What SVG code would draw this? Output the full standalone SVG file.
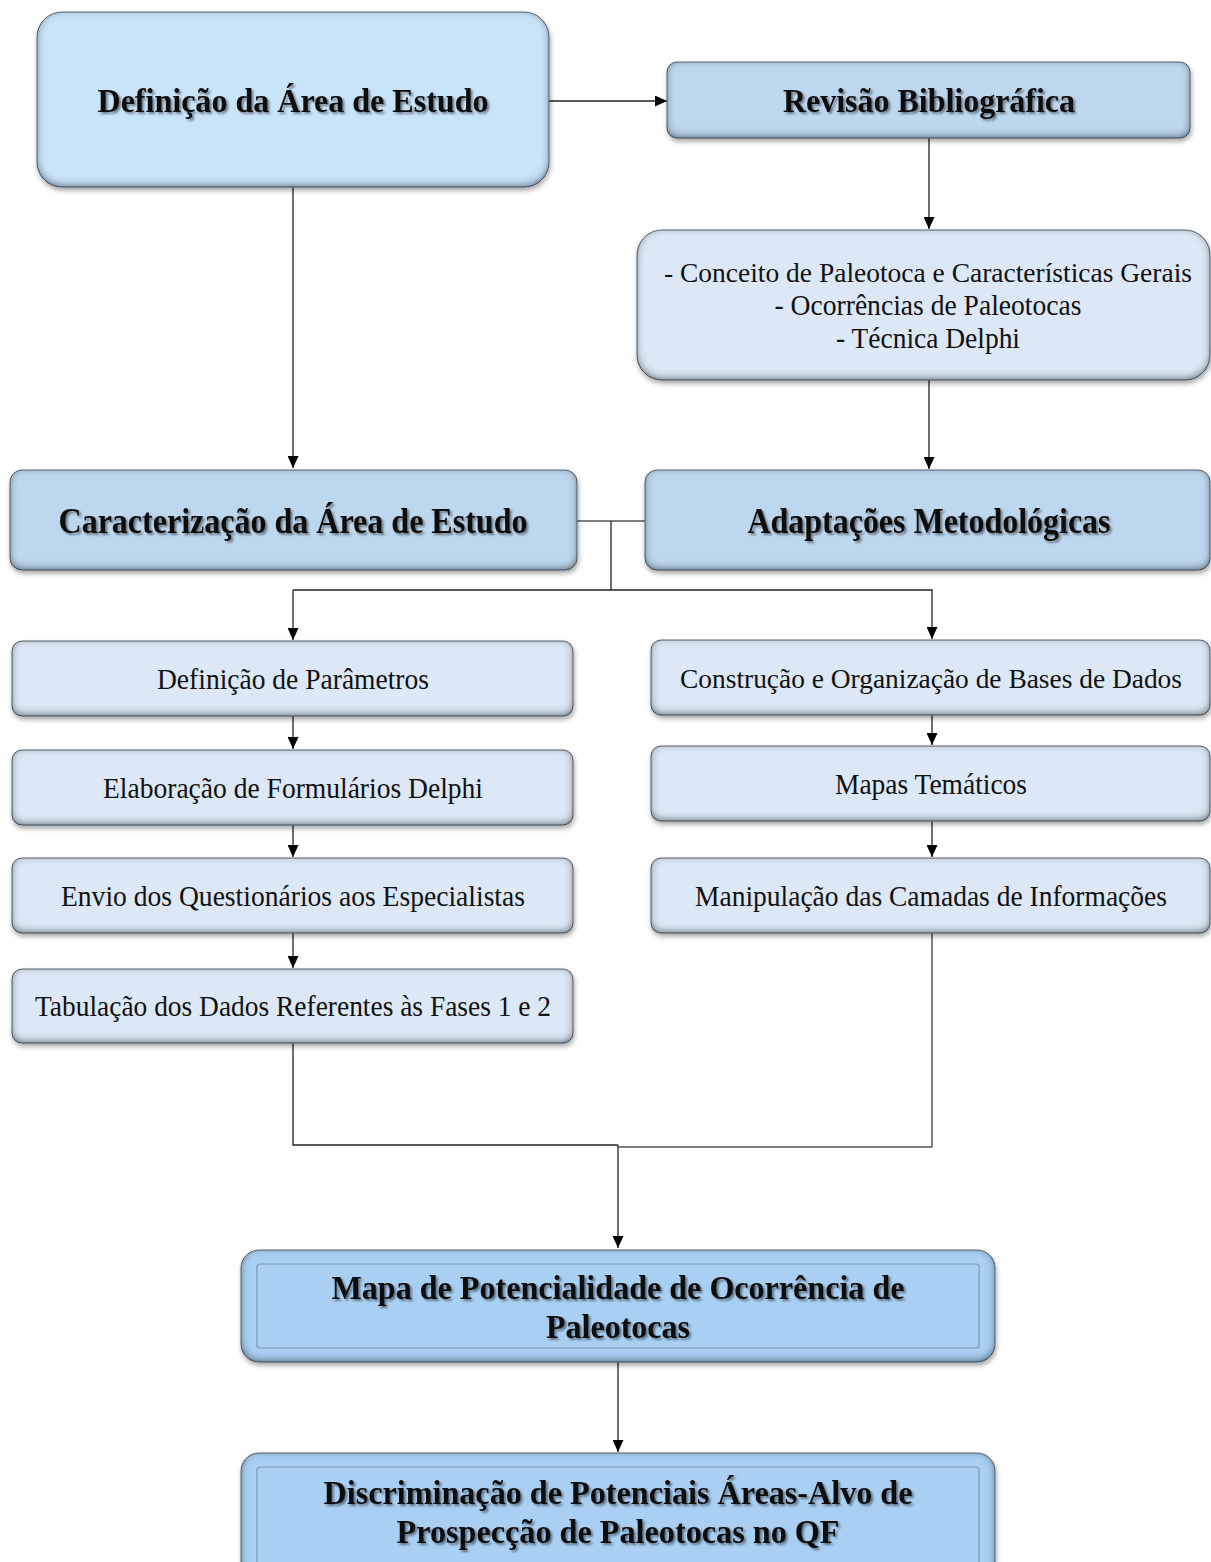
<svg xmlns="http://www.w3.org/2000/svg" width="1211" height="1562" viewBox="0 0 1211 1562">
<style>
.t{font-family:"Liberation Serif","Times New Roman",serif;fill:#111;text-anchor:middle}
.r{font-size:30px}
.b{font-weight:bold;filter:url(#tsh)}
.box{filter:url(#bevel);stroke:#5f6a76;stroke-width:1}
.c1{fill:#c9e3f9}
.c2{fill:#bdd7ee}
.c3{fill:#dce8f5}
.c4{fill:#a9cff2}
.inner{fill:none;stroke:#7f98b0;stroke-width:1.2}
.ln{fill:none;stroke:#222;stroke-width:1.3}
.lg{fill:none;stroke:#555;stroke-width:1.5}
</style>
<defs>
<marker id="ah" viewBox="0 0 12 11" refX="12" refY="5.5" markerWidth="12" markerHeight="11" markerUnits="userSpaceOnUse" orient="auto">
<path d="M0,0 L12,5.5 L0,11 z" fill="#000"/>
</marker>
<filter id="bevel" x="-5%" y="-10%" width="110%" height="130%">
<feGaussianBlur in="SourceAlpha" stdDeviation="2.5" result="sb"/>
<feOffset in="sb" dx="1" dy="3" result="so"/>
<feFlood flood-color="#000" flood-opacity="0.35"/>
<feComposite in2="so" operator="in" result="drop"/>
<feGaussianBlur in="SourceAlpha" stdDeviation="4.5" result="b"/>
<feOffset in="b" dx="0" dy="-2" result="bo"/>
<feComposite in="SourceAlpha" in2="bo" operator="arithmetic" k2="1" k3="-1" result="edge"/>
<feFlood flood-color="#2a343e" flood-opacity="1"/>
<feComposite in2="edge" operator="in" result="inner"/>
<feMerge><feMergeNode in="drop"/><feMergeNode in="SourceGraphic"/><feMergeNode in="inner"/></feMerge>
</filter>
<filter id="tsh" x="-5%" y="-20%" width="110%" height="150%">
<feGaussianBlur in="SourceAlpha" stdDeviation="1.2" result="b"/>
<feOffset in="b" dx="2" dy="2" result="o"/>
<feFlood flood-color="#000" flood-opacity="0.45"/>
<feComposite in2="o" operator="in" result="s"/>
<feMerge><feMergeNode in="s"/><feMergeNode in="SourceGraphic"/></feMerge>
</filter>
</defs>
<rect width="1211" height="1562" fill="#fff"/>

<g id="connectors">
<line class="ln" x1="549" y1="101" x2="667" y2="101" marker-end="url(#ah)"/>
<line class="ln" x1="293" y1="187" x2="293" y2="468" marker-end="url(#ah)"/>
<line class="ln" x1="929" y1="138" x2="929" y2="229" marker-end="url(#ah)"/>
<line class="ln" x1="929" y1="380" x2="929" y2="469" marker-end="url(#ah)"/>
<line class="lg" x1="577" y1="521" x2="645" y2="521"/>
<polyline class="ln" points="611,521 611,590"/>
<polyline class="ln" points="293,590 932,590 932,639" marker-end="url(#ah)"/>
<line class="ln" x1="293" y1="590" x2="293" y2="640" marker-end="url(#ah)"/>
<line class="ln" x1="293" y1="716" x2="293" y2="749" marker-end="url(#ah)"/>
<line class="ln" x1="293" y1="825" x2="293" y2="857" marker-end="url(#ah)"/>
<line class="ln" x1="293" y1="933" x2="293" y2="968" marker-end="url(#ah)"/>
<line class="ln" x1="932" y1="715" x2="932" y2="745" marker-end="url(#ah)"/>
<line class="ln" x1="932" y1="821" x2="932" y2="857" marker-end="url(#ah)"/>
<polyline class="ln" points="293,1043 293,1145 618,1145"/>
<polyline class="lg" points="932,933 932,1147 618,1147"/>
<line class="ln" x1="618" y1="1145" x2="618" y2="1248" marker-end="url(#ah)"/>
<line class="ln" x1="618" y1="1362" x2="618" y2="1452" marker-end="url(#ah)"/>
</g>

<g id="n-definicao-area">
<rect class="box c1" x="37" y="12" width="512" height="175" rx="25"/>
<text class="t b" x="293" y="112" font-size="34" textLength="391" lengthAdjust="spacingAndGlyphs">Definição da Área de Estudo</text>
</g>
<g id="n-revisao">
<rect class="box c2" x="667" y="62" width="523" height="76" rx="10"/>
<text class="t b" x="929" y="112" font-size="33" textLength="292" lengthAdjust="spacingAndGlyphs">Revisão Bibliográfica</text>
</g>
<g id="n-conceito">
<rect class="box c3" x="637" y="230" width="573" height="150" rx="25"/>
<text class="t" x="928" y="282" font-size="28" textLength="528" lengthAdjust="spacingAndGlyphs">- Conceito de Paleotoca e Características Gerais</text>
<text class="t r" x="928" y="315" textLength="307" lengthAdjust="spacingAndGlyphs">- Ocorrências de Paleotocas</text>
<text class="t r" x="928" y="348" textLength="184" lengthAdjust="spacingAndGlyphs">- Técnica Delphi</text>
</g>
<g id="n-caracterizacao">
<rect class="box c2" x="10" y="470" width="567" height="100" rx="12"/>
<text class="t b" x="293" y="533" font-size="36" textLength="469" lengthAdjust="spacingAndGlyphs">Caracterização da Área de Estudo</text>
</g>
<g id="n-adaptacoes">
<rect class="box c2" x="645" y="470" width="565" height="100" rx="12"/>
<text class="t b" x="929" y="533" font-size="36" textLength="363" lengthAdjust="spacingAndGlyphs">Adaptações Metodológicas</text>
</g>

<g id="n-parametros">
<rect class="box c3" x="12" y="641" width="561" height="75" rx="10"/>
<text class="t r" x="293" y="689" textLength="272" lengthAdjust="spacingAndGlyphs">Definição de Parâmetros</text>
</g>
<g id="n-formularios">
<rect class="box c3" x="12" y="750" width="561" height="75" rx="10"/>
<text class="t r" x="293" y="798" textLength="380" lengthAdjust="spacingAndGlyphs">Elaboração de Formulários Delphi</text>
</g>
<g id="n-envio">
<rect class="box c3" x="12" y="858" width="561" height="75" rx="10"/>
<text class="t r" x="293" y="906" textLength="464" lengthAdjust="spacingAndGlyphs">Envio dos Questionários aos Especialistas</text>
</g>
<g id="n-tabulacao">
<rect class="box c3" x="12" y="969" width="561" height="74" rx="10"/>
<text class="t r" x="293" y="1016" textLength="516" lengthAdjust="spacingAndGlyphs">Tabulação dos Dados Referentes às Fases 1 e 2</text>
</g>

<g id="n-construcao">
<rect class="box c3" x="651" y="640" width="559" height="75" rx="10"/>
<text class="t" x="931" y="688" font-size="28" textLength="502" lengthAdjust="spacingAndGlyphs">Construção e Organização de Bases de Dados</text>
</g>
<g id="n-mapas">
<rect class="box c3" x="651" y="746" width="559" height="75" rx="10"/>
<text class="t r" x="931" y="794" textLength="192" lengthAdjust="spacingAndGlyphs">Mapas Temáticos</text>
</g>
<g id="n-manipulacao">
<rect class="box c3" x="651" y="858" width="559" height="75" rx="10"/>
<text class="t r" x="931" y="906" textLength="472" lengthAdjust="spacingAndGlyphs">Manipulação das Camadas de Informações</text>
</g>

<g id="n-mapa-potencialidade">
<rect class="box c4" x="241" y="1250" width="754" height="112" rx="18"/>
<rect class="inner" x="257" y="1264" width="722" height="84" rx="3"/>
<text class="t b" x="618" y="1299" font-size="34" textLength="573" lengthAdjust="spacingAndGlyphs">Mapa de Potencialidade de Ocorrência de</text>
<text class="t b" x="618" y="1338" font-size="34" textLength="144" lengthAdjust="spacingAndGlyphs">Paleotocas</text>
</g>
<g id="n-discriminacao">
<rect class="box c4" x="241" y="1453" width="754" height="130" rx="18"/>
<rect class="inner" x="257" y="1467" width="722" height="100" rx="3"/>
<text class="t b" x="618" y="1504" font-size="34" textLength="589" lengthAdjust="spacingAndGlyphs">Discriminação de Potenciais Áreas-Alvo de</text>
<text class="t b" x="618" y="1543" font-size="34" textLength="443" lengthAdjust="spacingAndGlyphs">Prospecção de Paleotocas no QF</text>
</g>
</svg>
